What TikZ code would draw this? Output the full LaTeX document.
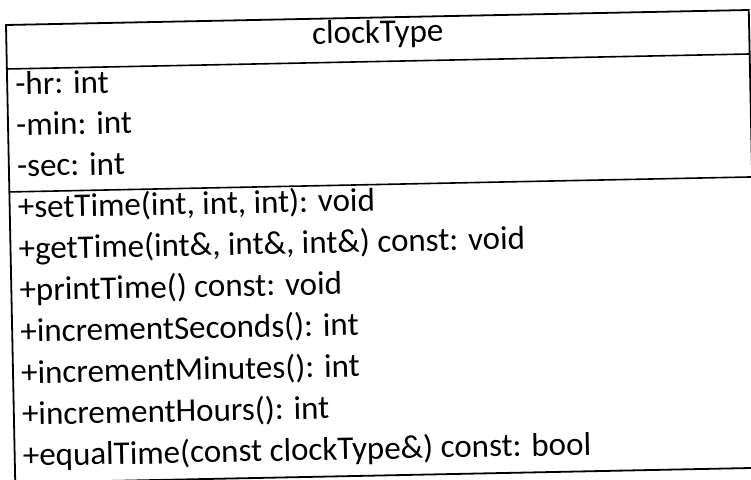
\documentclass[tikz,border=0pt]{standalone}
\usepackage{fontspec}
\setmainfont{Carlito}
\begin{document}
\begin{tikzpicture}[x=1pt,y=-1pt,
  boxline/.style={line width=1.8pt, line cap=rect},
  sepline/.style={line width=1.6pt},
  member/.style={anchor=mid west, inner sep=0pt, font=\fontsize{33}{40}\selectfont, transform shape},
  classname/.style={anchor=mid, inner sep=0pt, font=\fontsize{33}{40}\selectfont, transform shape}]
\useasboundingbox (0,0) rectangle (751,479);
\fill[white] (0,0) rectangle (751,479);
\clip (0,0) rectangle (751,479);
\begin{scope}[shift={(6,25)}, rotate=1.157]
  \coordinate (tl) at (0,0);
  \coordinate (tr) at (743,0);
  \coordinate (bl) at (0,458);
  \coordinate (br) at (743,458);
  \coordinate (s1l) at (0,44);
  \coordinate (s1r) at (743,44);
  \coordinate (s2l) at (0,167);
  \coordinate (s2r) at (743,167);
  \draw[boxline] (tl) -- (tr) -- (br) -- (bl) -- cycle;
  \draw[sepline] (s1l) -- (s1r);
  \draw[sepline] (s2l) -- (s2r);
  \node[classname] (cname) at (371.5,23) {clockType};
  \node[member] (a1) at (8,67.5) {-hr: int};
  \node[member] (a2) at (8,108.5) {-min: int};
  \node[member] (a3) at (8,149.5) {-sec: int};
  \node[member] (m1) at (8,190.8) {+setTime(int, int, int): void};
  \node[member] (m2) at (8,232.2) {+getTime(int\&, int\&, int\&) const: void};
  \node[member] (m3) at (8,273.6) {+printTime() const: void};
  \node[member] (m4) at (8,315.0) {+incrementSeconds(): int};
  \node[member] (m5) at (8,356.4) {+incrementMinutes(): int};
  \node[member] (m6) at (8,397.8) {+incrementHours(): int};
  \node[member] (m7) at (8,439.2) {+equalTime(const clockType\&) const: bool};
\end{scope}
\end{tikzpicture}
\end{document}
